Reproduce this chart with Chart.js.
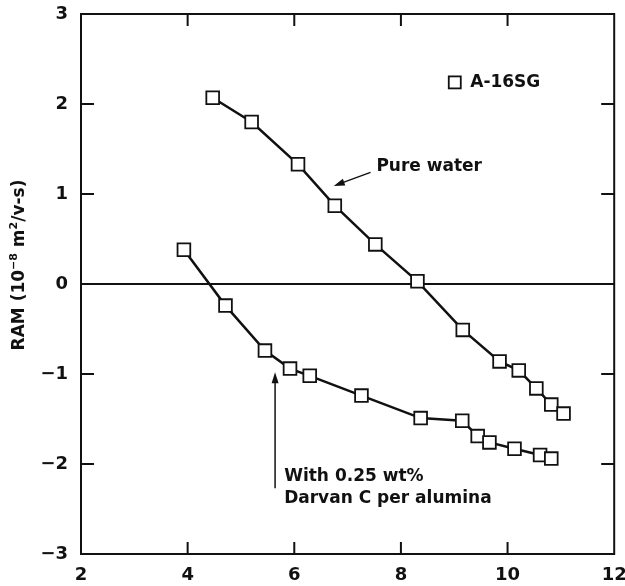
<!DOCTYPE html>
<html>
<head>
<meta charset="utf-8">
<script src="https://cdn.jsdelivr.net/npm/chart.js@4.4.0/dist/chart.umd.min.js"></script>
<style>
  body { margin: 0; background: #fff; }
</style>
</head>
<body>
<canvas id="ramChart" width="625" height="586"></canvas>
<script>
// values
const pureWaterPH  = [4.47, 5.20, 6.07, 6.76, 7.52, 8.31, 9.16, 9.85, 10.21, 10.54, 10.82, 11.05];
const pureWaterRAM = [2.07, 1.80, 1.33, 0.87, 0.44, 0.03, -0.51, -0.86, -0.96, -1.16, -1.34, -1.44];
const darvanPH  = [3.93, 4.71, 5.45, 5.92, 6.29, 7.26, 8.37, 9.15, 9.44, 9.66, 10.13, 10.61, 10.82];
const darvanRAM = [0.38, -0.24, -0.74, -0.94, -1.02, -1.24, -1.49, -1.52, -1.69, -1.76, -1.83, -1.90, -1.94];
const xTicks = [2, 4, 6, 8, 10, 12];
const yTicks = [-3, -2, -1, 0, 1, 2, 3];

const FONT = '"DejaVu Sans", "Liberation Sans", sans-serif';

function toPoints(xs, ys) {
    return xs.map((x, i) => ({ x: x, y: ys[i] }));
}

function arrow(ctx, x1, y1, x2, y2) {
    let ang = Math.atan2(y2 - y1, x2 - x1);
    ctx.beginPath();
    ctx.moveTo(x1, y1);
    ctx.lineTo(x2 - 8 * Math.cos(ang), y2 - 8 * Math.sin(ang));
    ctx.stroke();
    ctx.beginPath();
    ctx.moveTo(x2, y2);
    ctx.lineTo(x2 - 11 * Math.cos(ang) + 3.5 * Math.sin(ang), y2 - 11 * Math.sin(ang) - 3.5 * Math.cos(ang));
    ctx.lineTo(x2 - 11 * Math.cos(ang) - 3.5 * Math.sin(ang), y2 - 11 * Math.sin(ang) + 3.5 * Math.cos(ang));
    ctx.closePath();
    ctx.fill();
}

// frame, inward ticks, labels
const framePlugin = {
    id: 'frame',
    afterDatasetsDraw(chart) {
        let ctx = chart.ctx;
        let a = chart.chartArea;
        let xs = chart.scales.x, ys = chart.scales.y;
        ctx.save();
        ctx.strokeStyle = '#111';
        ctx.fillStyle = '#111';
        ctx.lineWidth = 2;
        ctx.strokeRect(a.left, a.top, a.right - a.left, a.bottom - a.top);

        xTicks.slice(1, -1).forEach(v => {
            let px = xs.getPixelForValue(v);
            ctx.beginPath();
            ctx.moveTo(px, a.bottom); ctx.lineTo(px, a.bottom - 12);
            ctx.moveTo(px, a.top); ctx.lineTo(px, a.top + 12);
            ctx.stroke();
        });
        yTicks.slice(1, -1).forEach(v => {
            if (v === 0) return;
            let py = ys.getPixelForValue(v);
            ctx.beginPath();
            ctx.moveTo(a.left, py); ctx.lineTo(a.left + 13, py);
            ctx.moveTo(a.right, py); ctx.lineTo(a.right - 13, py);
            ctx.stroke();
        });

        // legend
        let lx = xs.getPixelForValue(9.01), ly = ys.getPixelForValue(2.24);
        ctx.fillStyle = '#fff';
        ctx.lineWidth = 1.8;
        ctx.fillRect(lx - 6, ly - 6, 12, 12);
        ctx.strokeRect(lx - 6, ly - 6, 12, 12);
        ctx.fillStyle = '#111';
        ctx.font = 'bold 17px ' + FONT;
        ctx.textBaseline = 'middle';
        ctx.textAlign = 'left';
        ctx.fillText('A-16SG', xs.getPixelForValue(9.3), ly);

        // annotations
        ctx.fillText('Pure water', xs.getPixelForValue(7.54), ys.getPixelForValue(1.31));
        ctx.fillText('With 0.25 wt%', xs.getPixelForValue(5.81), ys.getPixelForValue(-2.14));
        ctx.fillText('Darvan C per alumina', xs.getPixelForValue(5.81), ys.getPixelForValue(-2.38));
        ctx.lineWidth = 1.5;
        arrow(ctx, xs.getPixelForValue(7.43), ys.getPixelForValue(1.24),
                   xs.getPixelForValue(6.74), ys.getPixelForValue(1.09));
        arrow(ctx, xs.getPixelForValue(5.64), ys.getPixelForValue(-2.27),
                   xs.getPixelForValue(5.64), ys.getPixelForValue(-0.98));

        // y axis title with superscripts
        let parts = [['RAM (10', false], ['\u22128', true], [' m', false], ['2', true], ['/v-s)', false]];
        let widths = parts.map(p => {
            ctx.font = (p[1] ? 'bold 11px ' : 'bold 17px ') + FONT;
            return ctx.measureText(p[0]).width;
        });
        let total = widths.reduce((s, w) => s + w, 0);
        ctx.translate(20, 265);
        ctx.rotate(-Math.PI / 2);
        let cx = -total / 2;
        parts.forEach((p, i) => {
            ctx.font = (p[1] ? 'bold 11px ' : 'bold 17px ') + FONT;
            ctx.fillText(p[0], cx, p[1] ? -6 : 0);
            cx += widths[i];
        });
        ctx.restore();
    }
};

const ctx = document.getElementById('ramChart').getContext('2d');

new Chart(ctx, {
    type: 'scatter',
    data: {
        datasets: [
            {
                label: 'Pure water',
                data: toPoints(pureWaterPH, pureWaterRAM),
                showLine: true,
                borderColor: '#111',
                borderWidth: 2.5,
                pointStyle: 'rect',
                pointRadius: 9,
                pointBackgroundColor: '#fff',
                pointBorderColor: '#111',
                pointBorderWidth: 1.8
            },
            {
                label: 'With 0.25 wt% Darvan C per alumina',
                data: toPoints(darvanPH, darvanRAM),
                showLine: true,
                borderColor: '#111',
                borderWidth: 2.5,
                pointStyle: 'rect',
                pointRadius: 9,
                pointBackgroundColor: '#fff',
                pointBorderColor: '#111',
                pointBorderWidth: 1.8
            }
        ]
    },
    options: {
        responsive: false,
        animation: false,
        layout: { padding: { top: 14, right: 8, left: 0, bottom: 0 } },
        plugins: {
            legend: { display: false },
            tooltip: { enabled: false }
        },
        scales: {
            x: {
                type: 'linear',
                min: 2, max: 12,
                afterBuildTicks: s => { s.ticks = xTicks.map(v => ({ value: v })); },
                afterFit: s => { s.height = 32; s.paddingLeft = 0; s.paddingRight = 0; },
                grid: { display: false, drawTicks: false },
                border: { display: false },
                ticks: {
                    padding: 11,
                    color: '#111',
                    font: { family: FONT, size: 18, weight: 'bold' }
                }
            },
            y: {
                type: 'linear',
                min: -3, max: 3,
                afterBuildTicks: s => { s.ticks = yTicks.map(v => ({ value: v })); },
                afterFit: s => { s.width = 81; s.paddingTop = 0; s.paddingBottom = 0; },
                grid: {
                    drawTicks: false,
                    color: c => (c.tick && c.tick.value === 0) ? '#111' : 'rgba(0,0,0,0)',
                    lineWidth: 2
                },
                border: { display: false },
                ticks: {
                    padding: 13,
                    color: '#111',
                    font: { family: FONT, size: 18, weight: 'bold' },
                    callback: v => v < 0 ? '\u2212' + Math.abs(v) : String(v)
                }
            }
        }
    },
    plugins: [framePlugin]
});
</script>
</body>
</html>
